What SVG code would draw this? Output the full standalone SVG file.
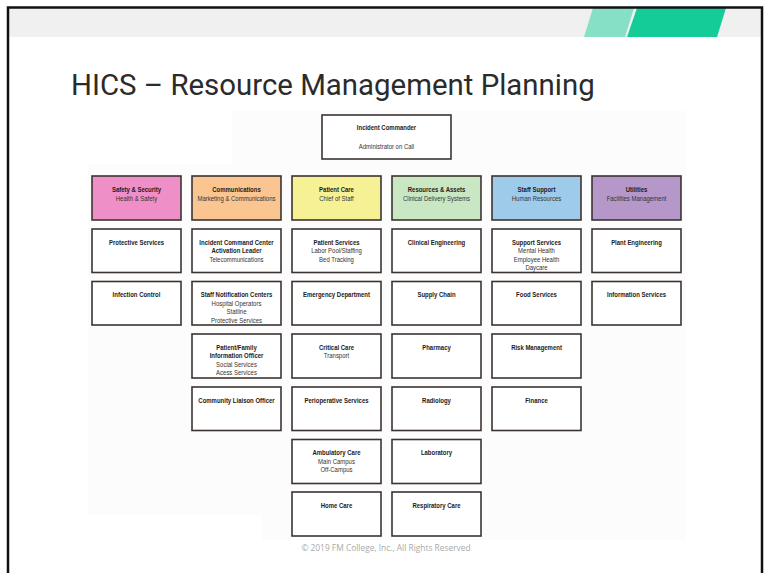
<svg xmlns="http://www.w3.org/2000/svg" width="764" height="573" viewBox="0 0 764 573">
  <style>
    .box { fill: #ffffff; stroke: #3b3431; stroke-width: 1.6; }
    .t { font-family: "Liberation Sans", Arial, sans-serif; font-size: 7.3px; text-anchor: middle; }
    .b { font-weight: bold; fill: #1c1a1a; }
    .r { fill: #333333; }
    .title { font-family: Roboto, "Liberation Sans", sans-serif; font-size: 29.4px; fill: #2b2b2b; }
    .foot { font-family: "Open Sans", "Liberation Sans", sans-serif; font-size: 8.4px; fill: #a9a9a9; text-anchor: middle; }
  </style>

  <!-- slide background and frame -->
  <rect x="0" y="0" width="764" height="573" fill="#ffffff"/>
  <rect x="8" y="8" width="754" height="29" fill="#f0f0f0"/>
  <polygon points="593,8 634,8 625,37 584,37" fill="#86e0c5"/>
  <polygon points="637,8 726,8 717,37 627,37" fill="#14cc97"/>
  <path d="M8,573 V7.5 H762 V573" fill="none" stroke="#111111" stroke-width="2.5"/>

  <text class="title" x="71" y="95">HICS – Resource Management Planning</text>

  <!-- chart panel -->
  <path d="M232,111 H686 V540 H262 V515 H88 V164 H232 Z" fill="#fdfcfc"/>

  <g id="connectors"/>

  <!-- labels use a condensed face: each label group is centred on its box and squeezed horizontally -->

  <!-- command -->
  <g id="incident-commander">
    <rect class="box" x="322" y="115" width="129" height="44"/>
    <g transform="translate(386.5 0) scale(0.82 1)">
      <text class="t b" x="0" y="130.5">Incident Commander</text>
      <text class="t r" x="0" y="149">Administrator on Call</text>
    </g>
  </g>

  <!-- section heads -->
  <g id="safety-security">
    <rect class="box" x="92" y="176" width="89" height="44" style="fill:#ef8fc7"/>
    <g transform="translate(136.5 0) scale(0.82 1)">
      <text class="t b" x="0" y="192.3">Safety &amp; Security</text>
      <text class="t r" x="0" y="201.2">Health &amp; Safety</text>
    </g>
  </g>
  <g id="communications">
    <rect class="box" x="192" y="176" width="89" height="44" style="fill:#fbc592"/>
    <g transform="translate(236.5 0) scale(0.82 1)">
      <text class="t b" x="0" y="192.3">Communications</text>
      <text class="t r" x="0" y="201.2">Marketing &amp; Communications</text>
    </g>
  </g>
  <g id="patient-care">
    <rect class="box" x="292" y="176" width="89" height="44" style="fill:#f7f196"/>
    <g transform="translate(336.5 0) scale(0.82 1)">
      <text class="t b" x="0" y="192.3">Patient Care</text>
      <text class="t r" x="0" y="201.2">Chief of Staff</text>
    </g>
  </g>
  <g id="resources-assets">
    <rect class="box" x="392" y="176" width="89" height="44" style="fill:#c9e7c3"/>
    <g transform="translate(436.5 0) scale(0.82 1)">
      <text class="t b" x="0" y="192.3">Resources &amp; Assets</text>
      <text class="t r" x="0" y="201.2">Clinical Delivery Systems</text>
    </g>
  </g>
  <g id="staff-support">
    <rect class="box" x="492" y="176" width="89" height="44" style="fill:#9fcbeb"/>
    <g transform="translate(536.5 0) scale(0.82 1)">
      <text class="t b" x="0" y="192.3">Staff Support</text>
      <text class="t r" x="0" y="201.2">Human Resources</text>
    </g>
  </g>
  <g id="utilities">
    <rect class="box" x="592" y="176" width="89" height="44" style="fill:#b697c9"/>
    <g transform="translate(636.5 0) scale(0.82 1)">
      <text class="t b" x="0" y="192.3">Utilities</text>
      <text class="t r" x="0" y="201.2">Facilities Management</text>
    </g>
  </g>

  <!-- row 2 -->
  <g id="protective-services">
    <rect class="box" x="92" y="229" width="89" height="43.5"/>
    <g transform="translate(136.5 0) scale(0.82 1)">
      <text class="t b" x="0" y="244.6">Protective Services</text>
    </g>
  </g>
  <g id="icc-activation-leader">
    <rect class="box" x="192" y="229" width="89" height="43.5"/>
    <g transform="translate(236.5 0) scale(0.82 1)">
      <text class="t b" x="0" y="244.6">Incident Command Center</text>
      <text class="t b" x="0" y="253.2">Activation Leader</text>
      <text class="t r" x="0" y="261.8">Telecommunications</text>
    </g>
  </g>
  <g id="patient-services">
    <rect class="box" x="292" y="229" width="89" height="43.5"/>
    <g transform="translate(336.5 0) scale(0.82 1)">
      <text class="t b" x="0" y="244.6">Patient Services</text>
      <text class="t r" x="0" y="253.2">Labor Pool/Staffing</text>
      <text class="t r" x="0" y="261.8">Bed Tracking</text>
    </g>
  </g>
  <g id="clinical-engineering">
    <rect class="box" x="392" y="229" width="89" height="43.5"/>
    <g transform="translate(436.5 0) scale(0.82 1)">
      <text class="t b" x="0" y="244.6">Clinical Engineering</text>
    </g>
  </g>
  <g id="support-services">
    <rect class="box" x="492" y="229" width="89" height="43.5"/>
    <g transform="translate(536.5 0) scale(0.82 1)">
      <text class="t b" x="0" y="244.6">Support Services</text>
      <text class="t r" x="0" y="253.1">Mental Health</text>
      <text class="t r" x="0" y="261.6">Employee Health</text>
      <text class="t r" x="0" y="270.1">Daycare</text>
    </g>
  </g>
  <g id="plant-engineering">
    <rect class="box" x="592" y="229" width="89" height="43.5"/>
    <g transform="translate(636.5 0) scale(0.82 1)">
      <text class="t b" x="0" y="244.6">Plant Engineering</text>
    </g>
  </g>

  <!-- row 3 -->
  <g id="infection-control">
    <rect class="box" x="92" y="281.5" width="89" height="43.5"/>
    <g transform="translate(136.5 0) scale(0.82 1)">
      <text class="t b" x="0" y="297.1">Infection Control</text>
    </g>
  </g>
  <g id="staff-notification-centers">
    <rect class="box" x="192" y="281.5" width="89" height="43.5"/>
    <g transform="translate(236.5 0) scale(0.82 1)">
      <text class="t b" x="0" y="297.1">Staff Notification Centers</text>
      <text class="t r" x="0" y="305.6">Hospital Operators</text>
      <text class="t r" x="0" y="314.1">Statline</text>
      <text class="t r" x="0" y="322.6">Protective Services</text>
    </g>
  </g>
  <g id="emergency-department">
    <rect class="box" x="292" y="281.5" width="89" height="43.5"/>
    <g transform="translate(336.5 0) scale(0.82 1)">
      <text class="t b" x="0" y="297.1">Emergency Department</text>
    </g>
  </g>
  <g id="supply-chain">
    <rect class="box" x="392" y="281.5" width="89" height="43.5"/>
    <g transform="translate(436.5 0) scale(0.82 1)">
      <text class="t b" x="0" y="297.1">Supply Chain</text>
    </g>
  </g>
  <g id="food-services">
    <rect class="box" x="492" y="281.5" width="89" height="43.5"/>
    <g transform="translate(536.5 0) scale(0.82 1)">
      <text class="t b" x="0" y="297.1">Food Services</text>
    </g>
  </g>
  <g id="information-services">
    <rect class="box" x="592" y="281.5" width="89" height="43.5"/>
    <g transform="translate(636.5 0) scale(0.82 1)">
      <text class="t b" x="0" y="297.1">Information Services</text>
    </g>
  </g>

  <!-- row 4 -->
  <g id="patient-family-info-officer">
    <rect class="box" x="192" y="334" width="89" height="44"/>
    <g transform="translate(236.5 0) scale(0.82 1)">
      <text class="t b" x="0" y="349.6">Patient/Family</text>
      <text class="t b" x="0" y="358.1">Information Officer</text>
      <text class="t r" x="0" y="366.6">Social Services</text>
      <text class="t r" x="0" y="375.1">Acess Services</text>
    </g>
  </g>
  <g id="critical-care">
    <rect class="box" x="292" y="334" width="89" height="44"/>
    <g transform="translate(336.5 0) scale(0.82 1)">
      <text class="t b" x="0" y="349.6">Critical Care</text>
      <text class="t r" x="0" y="358.2">Transport</text>
    </g>
  </g>
  <g id="pharmacy">
    <rect class="box" x="392" y="334" width="89" height="44"/>
    <g transform="translate(436.5 0) scale(0.82 1)">
      <text class="t b" x="0" y="349.6">Pharmacy</text>
    </g>
  </g>
  <g id="risk-management">
    <rect class="box" x="492" y="334" width="89" height="44"/>
    <g transform="translate(536.5 0) scale(0.82 1)">
      <text class="t b" x="0" y="349.6">Risk Management</text>
    </g>
  </g>

  <!-- row 5 -->
  <g id="community-liaison-officer">
    <rect class="box" x="192" y="387" width="89" height="43.5"/>
    <g transform="translate(236.5 0) scale(0.82 1)">
      <text class="t b" x="0" y="402.6">Community Liaison Officer</text>
    </g>
  </g>
  <g id="perioperative-services">
    <rect class="box" x="292" y="387" width="89" height="43.5"/>
    <g transform="translate(336.5 0) scale(0.82 1)">
      <text class="t b" x="0" y="402.6">Perioperative Services</text>
    </g>
  </g>
  <g id="radiology">
    <rect class="box" x="392" y="387" width="89" height="43.5"/>
    <g transform="translate(436.5 0) scale(0.82 1)">
      <text class="t b" x="0" y="402.6">Radiology</text>
    </g>
  </g>
  <g id="finance">
    <rect class="box" x="492" y="387" width="89" height="43.5"/>
    <g transform="translate(536.5 0) scale(0.82 1)">
      <text class="t b" x="0" y="402.6">Finance</text>
    </g>
  </g>

  <!-- row 6 -->
  <g id="ambulatory-care">
    <rect class="box" x="292" y="439.5" width="89" height="44"/>
    <g transform="translate(336.5 0) scale(0.82 1)">
      <text class="t b" x="0" y="455.1">Ambulatory Care</text>
      <text class="t r" x="0" y="463.7">Main Campus</text>
      <text class="t r" x="0" y="472.3">Off-Campus</text>
    </g>
  </g>
  <g id="laboratory">
    <rect class="box" x="392" y="439.5" width="89" height="44"/>
    <g transform="translate(436.5 0) scale(0.82 1)">
      <text class="t b" x="0" y="455.1">Laboratory</text>
    </g>
  </g>

  <!-- row 7 -->
  <g id="home-care">
    <rect class="box" x="292" y="492" width="89" height="44"/>
    <g transform="translate(336.5 0) scale(0.82 1)">
      <text class="t b" x="0" y="507.6">Home Care</text>
    </g>
  </g>
  <g id="respiratory-care">
    <rect class="box" x="392" y="492" width="89" height="44"/>
    <g transform="translate(436.5 0) scale(0.82 1)">
      <text class="t b" x="0" y="507.6">Respiratory Care</text>
    </g>
  </g>

  <text class="foot" x="386" y="551">© 2019 FM College, Inc., All Rights Reserved</text>
</svg>
